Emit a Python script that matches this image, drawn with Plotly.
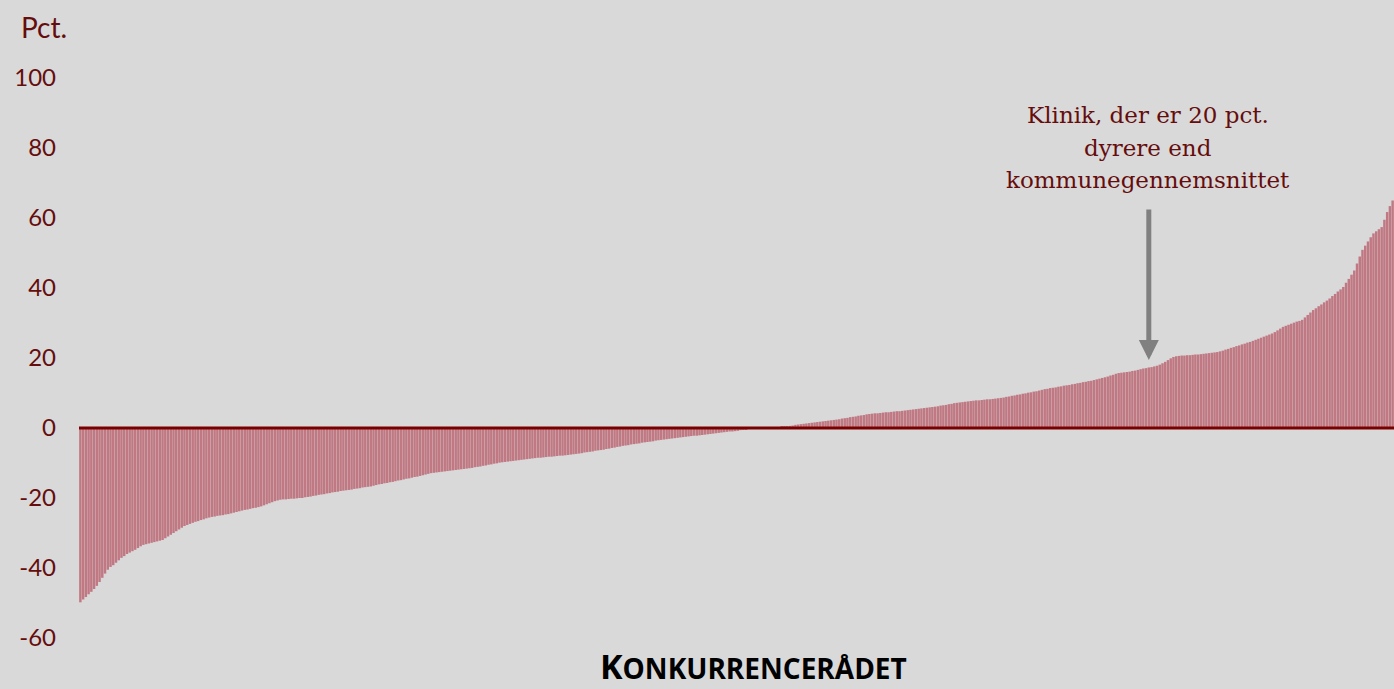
import plotly.graph_objects as go

# Price deviation from municipal average (pct.), clinics sorted ascending
values = [
    -49.8, -49.0, -48.3, -47.5, -46.8, -46.0, -45.1, -44.0, -42.8, -41.6, -40.5, -39.7, -39.2, -38.5, -37.8, -37.1, -36.6, -36.0, -35.6, -35.2,
    -34.8, -34.3, -33.8, -33.4, -33.2, -33.0, -32.8, -32.6, -32.4, -32.2, -32.0, -31.5, -31.0, -30.5, -30.0, -29.5, -29.0, -28.5, -28.0, -27.7,
    -27.4, -27.1, -26.8, -26.6, -26.3, -26.1, -25.8, -25.6, -25.4, -25.3, -25.1, -25.0, -24.9, -24.7, -24.6, -24.4, -24.2, -24.0, -23.8, -23.6,
    -23.4, -23.3, -23.1, -22.9, -22.8, -22.6, -22.4, -22.1, -21.8, -21.5, -21.2, -20.9, -20.7, -20.5, -20.4, -20.4, -20.3, -20.2, -20.2, -20.1,
    -20.0, -20.0, -19.8, -19.7, -19.6, -19.4, -19.3, -19.1, -19.0, -18.9, -18.7, -18.6, -18.4, -18.3, -18.2, -18.0, -17.9, -17.8, -17.7, -17.6,
    -17.4, -17.3, -17.2, -17.0, -16.9, -16.8, -16.7, -16.5, -16.3, -16.1, -16.0, -15.8, -15.7, -15.5, -15.4, -15.2, -15.0, -14.9, -14.7, -14.5,
    -14.4, -14.2, -14.0, -13.9, -13.7, -13.5, -13.3, -13.1, -12.9, -12.8, -12.7, -12.6, -12.5, -12.4, -12.3, -12.2, -12.1, -12.0, -11.9, -11.8,
    -11.7, -11.6, -11.5, -11.4, -11.2, -11.1, -11.0, -10.8, -10.7, -10.5, -10.4, -10.2, -10.1, -9.9, -9.8, -9.7, -9.6, -9.5, -9.4, -9.3,
    -9.2, -9.1, -9.0, -8.9, -8.8, -8.7, -8.6, -8.5, -8.5, -8.4, -8.3, -8.2, -8.2, -8.1, -8.0, -7.9, -7.9, -7.8, -7.7, -7.6,
    -7.5, -7.4, -7.3, -7.2, -7.0, -6.9, -6.8, -6.7, -6.5, -6.4, -6.3, -6.2, -6.0, -5.9, -5.7, -5.6, -5.4, -5.3, -5.1, -5.0,
    -4.9, -4.7, -4.6, -4.5, -4.4, -4.2, -4.1, -4.0, -3.9, -3.8, -3.6, -3.5, -3.4, -3.3, -3.2, -3.1, -3.0, -2.9, -2.8, -2.7,
    -2.6, -2.5, -2.4, -2.3, -2.2, -2.2, -2.1, -2.0, -1.9, -1.8, -1.7, -1.6, -1.5, -1.4, -1.3, -1.2, -1.1, -1.0, -1.0, -0.9,
    -0.8, -0.6, -0.5, -0.3, -0.2, 0.0, 0.0, 0.0, 0.0, 0.0, 0.0, 0.0, 0.0, 0.0, 0.0, 0.2, 0.3, 0.4, 0.5, 0.6,
    0.7, 0.9, 1.0, 1.1, 1.2, 1.3, 1.4, 1.5, 1.6, 1.7, 1.8, 1.9, 2.0, 2.1, 2.2, 2.3, 2.4, 2.5, 2.7, 2.8,
    2.9, 3.1, 3.2, 3.3, 3.5, 3.6, 3.7, 3.9, 4.0, 4.1, 4.2, 4.2, 4.3, 4.4, 4.5, 4.5, 4.6, 4.7, 4.8, 4.8,
    4.9, 5.0, 5.1, 5.2, 5.3, 5.4, 5.5, 5.6, 5.7, 5.8, 5.9, 6.0, 6.1, 6.2, 6.4, 6.5, 6.6, 6.8, 6.9, 7.1,
    7.2, 7.3, 7.4, 7.5, 7.6, 7.7, 7.8, 7.9, 7.9, 8.0, 8.1, 8.2, 8.2, 8.3, 8.4, 8.5, 8.6, 8.7, 8.9, 9.0,
    9.2, 9.3, 9.5, 9.6, 9.8, 9.9, 10.1, 10.2, 10.4, 10.5, 10.7, 10.9, 11.1, 11.2, 11.4, 11.5, 11.6, 11.8, 11.9, 12.1,
    12.2, 12.3, 12.5, 12.6, 12.8, 12.9, 13.1, 13.2, 13.4, 13.5, 13.7, 13.9, 14.1, 14.3, 14.5, 14.7, 15.0, 15.2, 15.5, 15.7,
    15.8, 15.9, 16.0, 16.1, 16.3, 16.4, 16.6, 16.8, 17.0, 17.1, 17.3, 17.4, 17.6, 17.8, 18.1, 18.5, 18.9, 19.4, 19.9, 20.3,
    20.5, 20.6, 20.7, 20.7, 20.8, 20.8, 20.9, 21.0, 21.0, 21.1, 21.2, 21.3, 21.4, 21.5, 21.6, 21.7, 21.9, 22.1, 22.4, 22.6,
    22.9, 23.1, 23.4, 23.6, 23.9, 24.1, 24.4, 24.6, 24.9, 25.2, 25.5, 25.8, 26.1, 26.4, 26.7, 27.0, 27.4, 27.9, 28.4, 28.9,
    29.2, 29.5, 29.8, 30.1, 30.4, 30.6, 30.9, 31.6, 32.3, 33.0, 33.7, 34.2, 34.8, 35.3, 35.9, 36.4, 37.0, 37.7, 38.3, 39.0,
    39.6, 40.3, 41.5, 42.6, 43.8, 45.0, 47.0, 49.0, 50.9, 52.1, 53.3, 54.5, 55.6, 56.2, 56.8, 57.4, 59.5, 61.7, 63.4, 65.0,
]
clinics = list(range(len(values)))
y_ticks = [-60, -40, -20, 0, 20, 40, 60, 80, 100]
y_tick_labels = ["-60", "-40", "-20", "0", "20", "40", "60", "80", "100"]
note_lines = ["Klinik, der er 20 pct.", "dyrere end", "kommunegennemsnittet"]

highlight_clinic = 390
highlight_value = 19.4

dark_red = "#650d0d"
bg = "#d9d9d9"

fig = go.Figure()
fig.add_trace(go.Bar(
    x=clinics, y=values,
    marker=dict(color="#c07883", line=dict(width=0)),
    hoverinfo="y",
))

annotations = [
    dict(text="Pct.", xref="paper", yref="paper", x=0, y=1, xshift=-60, yshift=51,
         xanchor="left", yanchor="middle", showarrow=False,
         font=dict(family="Lato", size=28, color=dark_red)),
    dict(text="", x=highlight_clinic, y=highlight_value, xref="x", yref="y",
         showarrow=True, ax=0, ay=-152, arrowhead=2, arrowsize=0.8,
         arrowwidth=5, arrowcolor="#808080"),
    dict(text="<b>K<span style='font-size:28px'>ONKURRENCERÅDET</span></b>",
         xref="paper", yref="paper", x=(753 - 79) / 1315, y=0, yshift=-28,
         xanchor="center", yanchor="middle", showarrow=False,
         font=dict(family="Open Sans", size=34, color="#000000")),
]
for k, line in enumerate(note_lines):
    annotations.append(dict(
        text=line, xref="paper", yref="paper", x=(1148 - 79) / 1315, y=1,
        yshift=78 - (115 + 32.5 * k), xanchor="center", yanchor="middle",
        showarrow=False, font=dict(family="DejaVu Serif", size=23, color=dark_red)))

fig.update_layout(
    width=1394, height=689,
    paper_bgcolor=bg, plot_bgcolor=bg,
    margin=dict(l=79, r=0, t=78, b=51),
    bargap=0.1,
    showlegend=False,
    xaxis=dict(visible=False, range=[-0.5, len(values) - 0.5]),
    yaxis=dict(
        range=[-60, 100], tickvals=y_ticks, ticktext=y_tick_labels,
        showgrid=False, zeroline=False, showline=False, ticks="",
        ticklabelstandoff=22,
        tickfont=dict(family="Lato", size=24, color=dark_red),
    ),
    shapes=[dict(type="line", xref="paper", yref="y", x0=0, x1=1, y0=0, y1=0,
                 line=dict(color="#7a0000", width=3), layer="above")],
    annotations=annotations,
)

fig.write_html("out.html", config={"displayModeBar": False},
               post_script="document.body.style.margin='0';document.body.style.overflow='hidden';")
